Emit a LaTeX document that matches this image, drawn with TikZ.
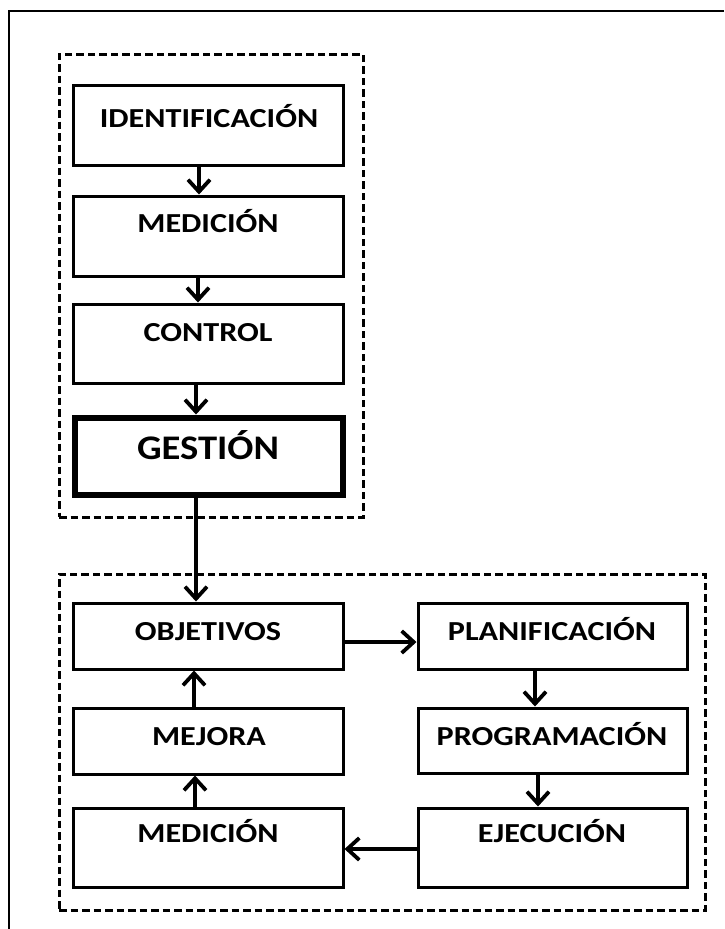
\documentclass[tikz,border=0pt]{standalone}
\usepackage{fontspec}
\setmainfont{Carlito}
\usetikzlibrary{arrows.meta}
\newcommand{\wide}[1]{\scalebox{1.17}[1]{#1}}
\newcommand{\wider}[1]{\scalebox{1.12}[1]{#1}}
\tikzset{
  box/.style={draw, line width=3pt, rectangle, inner sep=0pt},
  thickbox/.style={draw, line width=6pt, rectangle, inner sep=0pt},
  group/.style={draw, dash pattern=on 7.5pt off 4pt, line width=3pt, rectangle, inner sep=0pt},
  lbl/.style={anchor=base, inner sep=0pt, font=\fontsize{27.5}{30}\selectfont\bfseries},
  biglbl/.style={anchor=base, inner sep=0pt, font=\fontsize{34.5}{38}\selectfont\bfseries},
  arr/.style={line width=3.8pt, -{Straight Barb[length=12pt,width=22pt,line width=3.8pt]}},
}
\begin{document}
\begin{tikzpicture}[x=1pt,y=-1pt]
\useasboundingbox (0,0) rectangle (724,929);
\fill[white] (0,0) rectangle (724,929);
% outer frame (top and left)
\coordinate (fr1) at (724,11);
\coordinate (fr2) at (9,11);
\coordinate (fr3) at (9,929);
\draw[line width=1.3pt] (fr1) -- (fr2) -- (fr3);
% groups
\node[group, minimum width=304pt, minimum height=463pt] (grp1) at (211,285.5) {};
\node[group, minimum width=646pt, minimum height=336pt] (grp2) at (382,742) {};
% top column
\node[box, minimum width=270pt, minimum height=80pt] (ident) at (208,125) {};
\node[box, minimum width=270pt, minimum height=80pt] (med1) at (208,236) {};
\node[box, minimum width=270pt, minimum height=79pt] (ctrl) at (208,343.5) {};
\node[thickbox, minimum width=268pt, minimum height=77pt] (gest) at (208.5,456) {};
% bottom groups
\node[box, minimum width=270pt, minimum height=66pt] (obj) at (208,636) {};
\node[box, minimum width=269pt, minimum height=66pt] (plan) at (552.5,636) {};
\node[box, minimum width=270pt, minimum height=66pt] (mej) at (208,741) {};
\node[box, minimum width=269pt, minimum height=65pt] (prog) at (552.5,740.5) {};
\node[box, minimum width=270pt, minimum height=79pt] (med2) at (208,847.5) {};
\node[box, minimum width=269pt, minimum height=79pt] (ejec) at (552.5,847.5) {};
% labels
\node[lbl] (tident) at (209,127) {\wide{IDENTIFICACIÓN}};
\node[lbl] (tmed1) at (208,232) {\wide{MEDICIÓN}};
\node[lbl] (tctrl) at (208,341) {\wide{CONTROL}};
\node[biglbl] (tgest) at (208,459.5) {\wider{GESTIÓN}};
\node[lbl] (tobj) at (208,640) {\wide{OBJETIVOS}};
\node[lbl] (tplan) at (552,640) {\wide{PLANIFICACIÓN}};
\node[lbl] (tmej) at (209,745) {\wide{MEJORA}};
\node[lbl] (tprog) at (552,745) {\wide{PROGRAMACIÓN}};
\node[lbl] (tmed2) at (208,842) {\wide{MEDICIÓN}};
\node[lbl] (tejec) at (552,842) {\wide{EJECUCIÓN}};
% arrows
\draw[arr] (199,0 |- ident.south) -- (199,0 |- med1.north);
\draw[arr] (198,0 |- med1.south) -- (198,0 |- ctrl.north);
\draw[arr] (196,0 |- ctrl.south) -- (196,0 |- gest.north);
\draw[arr] (196,0 |- gest.south) -- (196,0 |- obj.north);
\draw[arr] (obj.east |- 0,642) -- (plan.west |- 0,642);
\draw[arr] (535,0 |- plan.south) -- (535,0 |- prog.north);
\draw[arr] (538,0 |- prog.south) -- (538,0 |- ejec.north);
\draw[arr] (ejec.west |- 0,849) -- (med2.east |- 0,849);
\draw[arr] (195,0 |- med2.north) -- (195,0 |- mej.south);
\draw[arr] (194,0 |- mej.north) -- (194,0 |- obj.south);
\end{tikzpicture}
\end{document}
